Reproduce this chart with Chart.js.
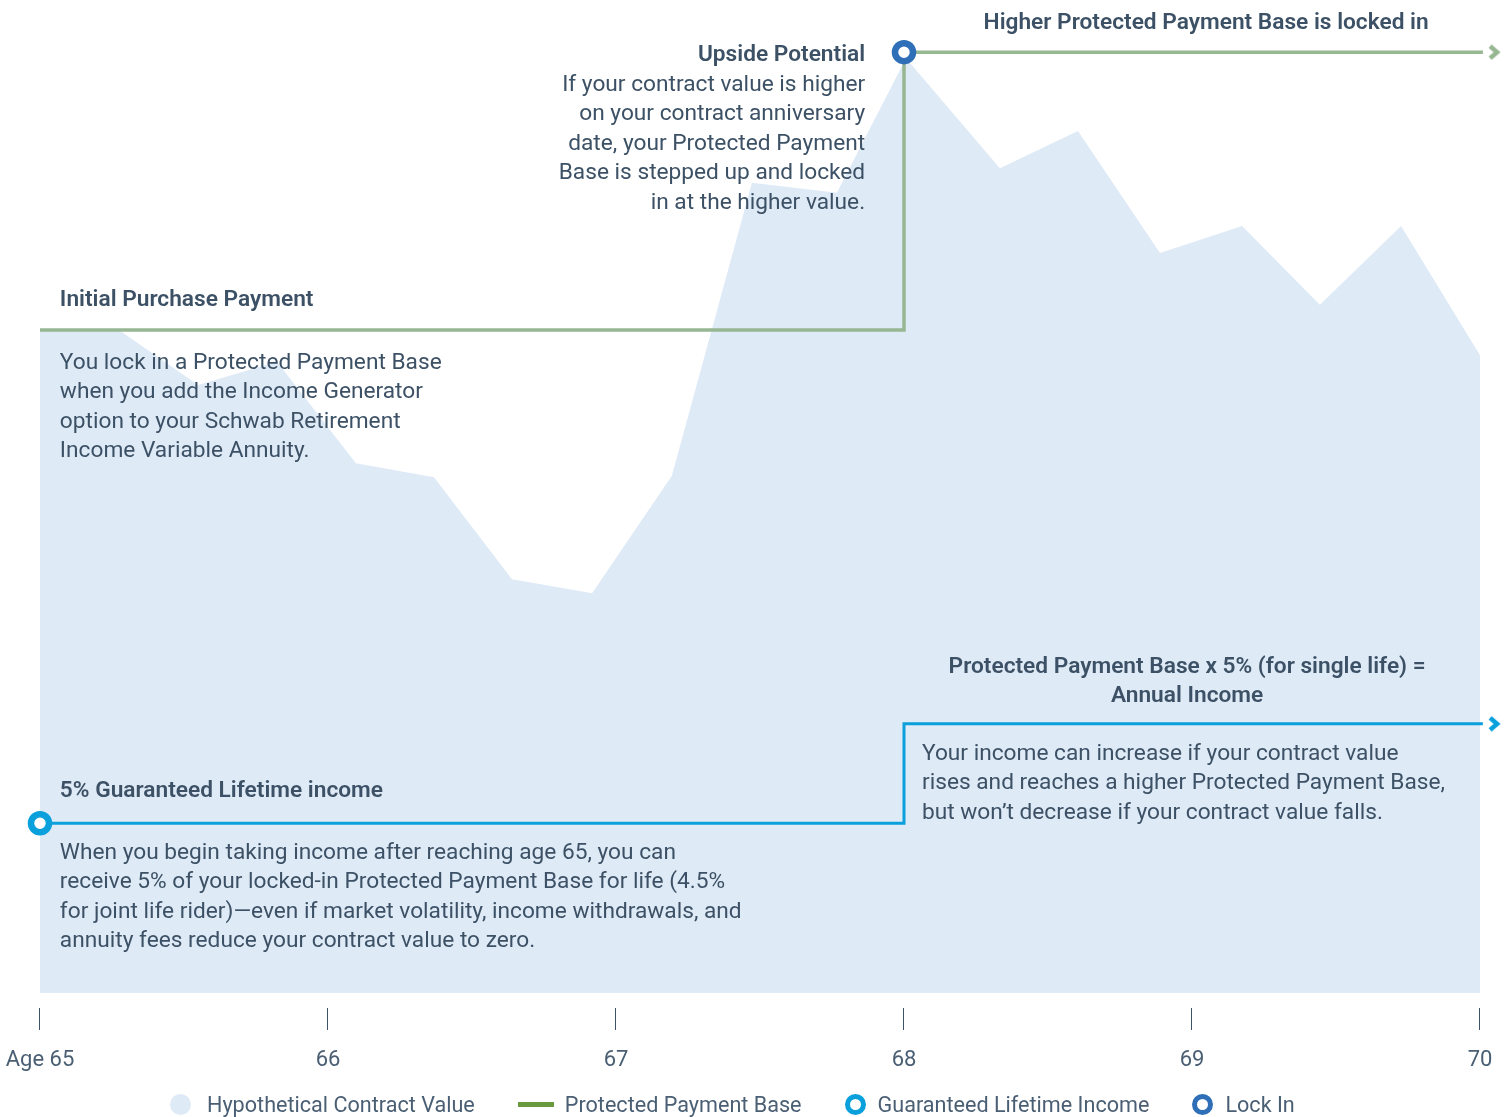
<!DOCTYPE html>
<html>
<head>
<meta charset="utf-8">
<script src="https://cdn.jsdelivr.net/npm/chart.js@4.4.1/dist/chart.umd.min.js"></script>
<style>
html, body { margin: 0; padding: 0; background: #fff; overflow: hidden; }
#wrap { position: relative; width: 1511px; height: 1117px; }
#legend { position: absolute; left: 170px; top: 1092px; display: flex; align-items: center;
  font-family: Roboto, sans-serif; font-size: 21.6px; color: #4a5f73; white-space: nowrap; }
#legend .item { display: flex; align-items: center; margin-right: 43px; }
#legend .sym { display: inline-block; box-sizing: border-box; }
</style>
</head>
<body>
<div id="wrap">
  <canvas id="myChart" width="1511" height="1117"></canvas>
  <div id="legend"></div>
</div>
<script>
var ctx = document.getElementById('myChart').getContext('2d');

// hypothetical contract value (initial purchase = 100)
var ages = [65, 65.274, 65.549, 65.823, 66.097, 66.368, 66.639, 66.917, 67.194, 67.472,
            67.767, 68.007, 68.333, 68.604, 68.889, 69.174, 69.444, 69.726, 70];
var contractValue = [100, 100, 91.7, 95.2, 79.9, 77.8, 62.4, 60.3, 78.0, 122.2,
                     120.7, 141.0, 124.4, 130.0, 111.6, 115.7, 103.8, 115.7, 96.2];
// protected payment base, steps up at the anniversary
var baseAges = [65, 68, 70.01];
var protectedBase = [100, 141.9, 141.9];
// guaranteed lifetime income
var incomeAges = [65, 68, 70.01];
var lifetimeIncome = [25.6, 40.6, 40.6];
var arrowAge = 70.049;
var tickAges = [65, 66, 67, 68, 69, 70];
var tickLabels = ['Age 65', '66', '67', '68', '69', '70'];

var areaColor = '#dfeaf7';
var baseColor = '#97b692';
var baseLegendColor = '#6a9a3d';
var incomeColor = '#0aa0dc';
var lockColor = '#2f6fb7';
var textColor = '#3c5165';
var fontSize = 22.7;

function pts(xs, ys) {
  return xs.map(function (x, i) { return { x: x, y: ys[i] }; });
}

function chevron(color) {
  var c = document.createElement('canvas');
  c.width = 14; c.height = 16;
  var g = c.getContext('2d');
  g.strokeStyle = color;
  g.lineWidth = 4.5;
  g.lineJoin = 'miter';
  g.beginPath();
  g.moveTo(3, 2); g.lineTo(10, 8); g.lineTo(3, 14);
  g.stroke();
  return c;
}
var arrows = [chevron(baseColor), chevron(incomeColor)];

// callout texts, anchored in chart units
var notes = [
  { x: 69.049, y: 146.3, align: 'center', bold: true, lines: ['Higher Protected Payment Base is locked in'] },
  { x: 67.865, y: 141.5, align: 'right', bold: true, lines: ['Upside Potential'] },
  { x: 67.865, y: 136.95, align: 'right', lines: ['If your contract value is higher', 'on your contract anniversary',
      'date, your Protected Payment', 'Base is stepped up and locked', 'in at the higher value.'] },
  { x: 65.069, y: 104.5, align: 'left', bold: true, lines: ['Initial Purchase Payment'] },
  { x: 65.069, y: 95.0, align: 'left', lines: ['You lock in a Protected Payment Base', 'when you add the Income Generator',
      'option to your Schwab Retirement', 'Income Variable Annuity.'] },
  { x: 68.983, y: 49.17, align: 'center', bold: true, lines: ['Protected Payment Base x 5% (for single life) =', 'Annual Income'] },
  { x: 68.0625, y: 36.05, align: 'left', lines: ['Your income can increase if your contract value',
      'rises and reaches a higher Protected Payment Base,', 'but won\u2019t decrease if your contract value falls.'] },
  { x: 65.069, y: 30.47, align: 'left', bold: true, lines: ['5% Guaranteed Lifetime income'] },
  { x: 65.069, y: 21.12, align: 'left', lines: ['When you begin taking income after reaching age 65, you can',
      'receive 5% of your locked-in Protected Payment Base for life (4.5%',
      'for joint life rider)\u2014even if market volatility, income withdrawals, and',
      'annuity fees reduce your contract value to zero.'] }
];

var notesPlugin = {
  id: 'notes',
  afterDatasetsDraw: function (chart) {
    var c = chart.ctx, xs = chart.scales.x, ys = chart.scales.y;
    c.save();
    c.fillStyle = textColor;
    c.textBaseline = 'middle';
    notes.forEach(function (n) {
      c.font = (n.bold ? '600 ' : '400 ') + fontSize + 'px Roboto, sans-serif';
      c.textAlign = n.align;
      var px = xs.getPixelForValue(n.x), py = ys.getPixelForValue(n.y);
      n.lines.forEach(function (t, i) { c.fillText(t, px, py + i * 29.5); });
    });
    c.restore();
  }
};

var myChart = new Chart(ctx, {
  type: 'line',
  data: {
    datasets: [{
      label: 'Hypothetical Contract Value',
      data: pts(ages, contractValue),
      fill: 'origin',
      backgroundColor: areaColor,
      borderWidth: 0,
      pointRadius: 0,
      tension: 0,
      order: 3
    }, {
      label: 'Protected Payment Base',
      data: pts(baseAges, protectedBase),
      stepped: 'before',
      fill: false,
      borderColor: baseColor,
      borderWidth: 3.5,
      pointRadius: 0,
      order: 2
    }, {
      label: 'Guaranteed Lifetime Income',
      data: pts(incomeAges, lifetimeIncome),
      stepped: 'before',
      fill: false,
      borderColor: incomeColor,
      borderWidth: 3,
      pointRadius: function (c) { return c.dataIndex === 0 ? 9 : 0; },
      pointBorderWidth: 6.5,
      pointBorderColor: incomeColor,
      pointBackgroundColor: '#fff',
      clip: false,
      order: 1
    }, {
      label: 'Lock In',
      data: [{ x: baseAges[1], y: protectedBase[1] }],
      showLine: false,
      pointRadius: 9,
      pointBorderWidth: 6.5,
      pointBorderColor: lockColor,
      pointBackgroundColor: '#fff',
      clip: false,
      order: 0
    }, {
      label: 'arrows',
      data: [{ x: arrowAge, y: protectedBase[2] }, { x: arrowAge, y: lifetimeIncome[2] }],
      showLine: false,
      pointStyle: function (c) { return arrows[c.dataIndex]; },
      clip: false,
      order: 0
    }]
  },
  options: {
    responsive: false,
    animation: false,
    layout: { padding: { top: 16, left: 16, right: 16, bottom: 0 } },
    plugins: {
      legend: { display: false },
      tooltip: { enabled: false }
    },
    scales: {
      x: {
        type: 'linear',
        min: 64.9167,
        max: 70.0521,
        afterBuildTicks: function (s) { s.ticks = tickAges.map(function (v) { return { value: v }; }); },
        afterFit: function (s) { s.height = 109; s.paddingLeft = 0; s.paddingRight = 0; },
        border: { display: false },
        grid: { drawOnChartArea: false, drawTicks: true, tickLength: 22, tickColor: '#3d5266', lineWidth: 1 },
        ticks: {
          padding: 17,
          color: '#4a5f73',
          autoSkip: false,
          maxRotation: 0,
          font: { family: 'Roboto', size: 22 },
          callback: function (v, i) { return tickLabels[i]; }
        }
      },
      y: { display: false, min: -2.26, max: 147.36 }
    }
  },
  plugins: [notesPlugin]
});

// html legend built from the datasets
var legendEl = document.getElementById('legend');
var symbols = {
  'Hypothetical Contract Value': 'width:21px;height:21px;border-radius:50%;background:' + areaColor + ';margin-right:16px;',
  'Protected Payment Base': 'width:36px;height:5px;background:' + baseLegendColor + ';margin-right:11px;',
  'Guaranteed Lifetime Income': 'width:21px;height:21px;border-radius:50%;border:5px solid ' + incomeColor + ';margin-right:12px;',
  'Lock In': 'width:21px;height:21px;border-radius:50%;border:5px solid ' + lockColor + ';margin-right:12px;'
};
myChart.data.datasets.forEach(function (ds) {
  if (!symbols[ds.label]) return;
  var item = document.createElement('span');
  item.className = 'item';
  var sym = document.createElement('span');
  sym.className = 'sym';
  sym.style.cssText = symbols[ds.label];
  item.appendChild(sym);
  item.appendChild(document.createTextNode(ds.label));
  legendEl.appendChild(item);
});
</script>
</body>
</html>
